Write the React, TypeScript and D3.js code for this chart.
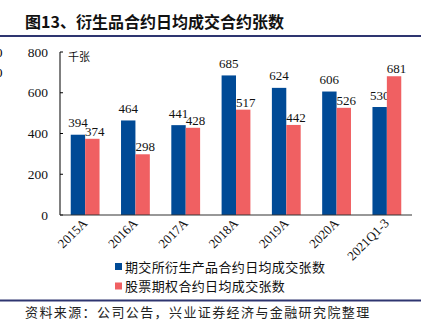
import React from "react";
import * as d3 from "d3";

const categories = ["2015A", "2016A", "2017A", "2018A", "2019A", "2020A", "2021Q1-3"];
const exchangeDerivatives = [394, 464, 441, 685, 624, 606, 530];
const stockOptions = [374, 298, 428, 517, 442, 526, 681];
const yTicks = [0, 200, 400, 600, 800];
const seriesNames = ["期交所衍生产品合约日均成交张数", "股票期权合约日均成交张数"];
const colors = ["#004a96", "#f06062"];

const W = 432;
const H = 331;
const left = 60;
const right = 412;
const top = 52;
const bottom = 215;
const serif = "'Liberation Serif', 'DejaVu Serif', serif";
const cjk = "'Noto Sans CJK SC', sans-serif";

export default function App() {
  const x = d3.scaleBand<string>().domain(categories).range([left, right]);
  const y = d3.scaleLinear().domain([0, 800]).range([bottom, top]);
  const barW = 14.4;
  const series = [exchangeDerivatives, stockOptions];

  return (
    <svg width={W} height={H} style={{ position: "absolute", left: 0, top: 0, background: "#fff" }}>
      <rect x={0} y={0} width={W} height={H} fill="#fff" />
      <text x={25} y={28} fontFamily={cjk} fontWeight="bold" fontSize={16} fill="#111">
        图13、衍生品合约日均成交合约张数
      </text>
      <line x1={0} x2={421} y1={36} y2={36} stroke="#2e3570" strokeWidth={2} />
      <text x={-4} y={57} fontFamily={serif} fontSize={13}>0</text>
      <text x={-4} y={77} fontFamily={serif} fontSize={13}>0</text>

      {/* y axis */}
      <line x1={left} x2={left} y1={top} y2={bottom} stroke="#000" strokeWidth={1} />
      {yTicks.map((t) => (
        <g key={t}>
          <line x1={left} x2={left + 3} y1={y(t)} y2={y(t)} stroke="#000" />
          <text x={48} y={y(t) + 4.5} textAnchor="end" fontFamily={serif} fontSize={13.5} fill="#111">
            {t}
          </text>
        </g>
      ))}
      <text x={68} y={61} fontFamily={cjk} fontSize={11} fill="#111">千张</text>

      {/* bars */}
      {categories.map((c, i) => {
        const cx = x(c)! + x.bandwidth() / 2;
        return (
          <g key={c}>
            {series.map((s, k) => {
              const bx = k === 0 ? cx - barW : cx;
              return (
                <g key={k}>
                  <rect x={bx} y={y(s[i])} width={barW} height={bottom - y(s[i])} fill={colors[k]} />
                  <text
                    x={bx + barW / 2 + (k === 1 ? 2.5 : 0)}
                    y={y(s[i]) - (k === 0 ? 7.5 : 3)}
                    textAnchor="middle"
                    fontFamily={serif}
                    fontSize={13}
                    fill="#111"
                  >
                    {s[i]}
                  </text>
                </g>
              );
            })}
            <text
              transform={`translate(${cx + 3},${bottom + 9}) rotate(-45)`}
              textAnchor="end"
              fontFamily={serif}
              fontSize={13}
              fill="#111"
            >
              {c}
            </text>
          </g>
        );
      })}
      <line x1={left} x2={right} y1={bottom} y2={bottom} stroke="#333" strokeWidth={1.2} />

      {/* legend */}
      {seriesNames.map((n, k) => (
        <g key={n}>
          <rect x={115} y={263 + k * 19.5} width={7} height={7} fill={colors[k]} />
          <text x={125} y={271.5 + k * 19.5} fontFamily={cjk} fontSize={13} fill="#111" letterSpacing={0.35}>
            {n}
          </text>
        </g>
      ))}

      <line x1={0} x2={421} y1={300.5} y2={300.5} stroke="#2e3570" strokeWidth={2} />
      <text x={25} y={317} fontFamily={cjk} fontSize={13} fill="#222" letterSpacing={1.4}>
        资料来源：公司公告，兴业证券经济与金融研究院整理
      </text>
    </svg>
  );
}
